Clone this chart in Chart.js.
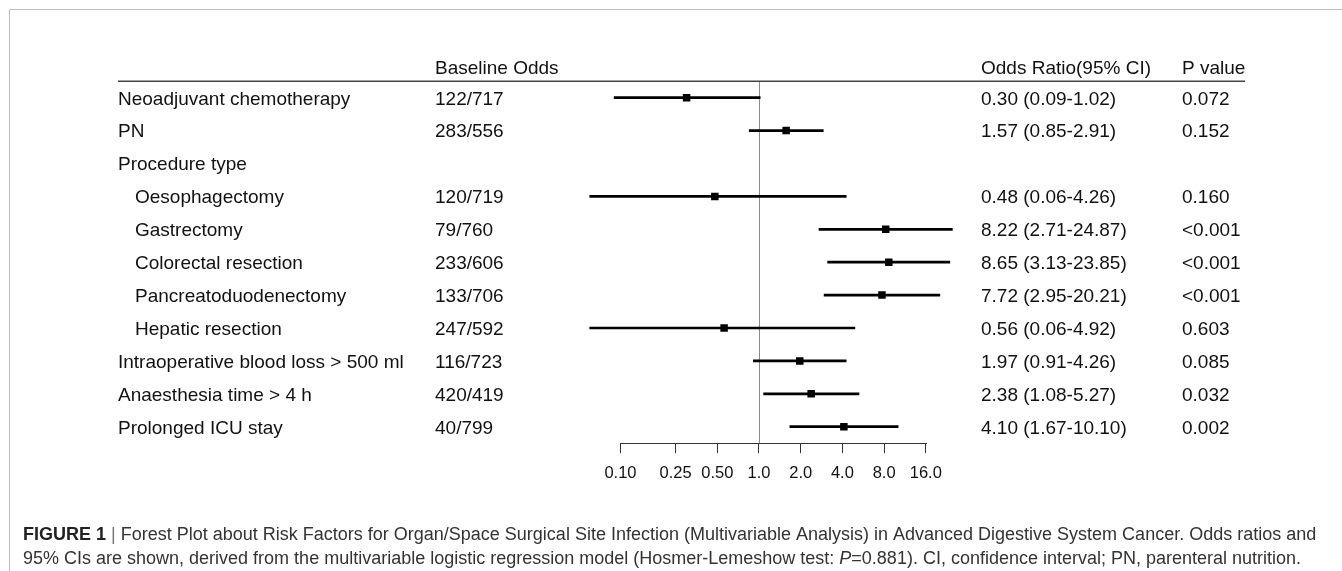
<!DOCTYPE html>
<html>
<head>
<meta charset="utf-8">
<script src="https://cdn.jsdelivr.net/npm/chart.js@4.4.0/dist/chart.umd.min.js"></script>
<style>
  html, body { margin: 0; padding: 0; background: #fff; }
  #forest { display: block; }
</style>
</head>
<body>
<canvas id="forest" width="1342" height="571"></canvas>
<script>
const rowLabels = [
  'Neoadjuvant chemotherapy', 'PN', 'Procedure type', 'Oesophagectomy', 'Gastrectomy',
  'Colorectal resection', 'Pancreatoduodenectomy', 'Hepatic resection',
  'Intraoperative blood loss > 500 ml', 'Anaesthesia time > 4 h', 'Prolonged ICU stay'
];
const indented = [0, 0, 0, 1, 1, 1, 1, 1, 0, 0, 0];
const baselineOdds = ['122/717', '283/556', '', '120/719', '79/760', '233/606', '133/706', '247/592', '116/723', '420/419', '40/799'];
const oddsRatios = [0.30, 1.57, null, 0.48, 8.22, 8.65, 7.72, 0.56, 1.97, 2.38, 4.10];
const ciLower = [0.09, 0.85, null, 0.06, 2.71, 3.13, 2.95, 0.06, 0.91, 1.08, 1.67];
const ciUpper = [1.02, 2.91, null, 4.26, 24.87, 23.85, 20.21, 4.92, 4.26, 5.27, 10.10];
const pValues = ['0.072', '0.152', '', '0.160', '<0.001', '<0.001', '<0.001', '0.603', '0.085', '0.032', '0.002'];

const tickValues = [0.1, 0.25, 0.5, 1, 2, 4, 8, 16];
const tickLabels = ['0.10', '0.25', '0.50', '1.0', '2.0', '4.0', '8.0', '16.0'];
const headers = ['Baseline Odds', 'Odds Ratio(95% CI)', 'P value'];

const caption1 = [
  { t: 'FIGURE 1', bold: true, color: '#222' },
  { t: ' | ', color: '#777' },
  { t: 'Forest Plot about Risk Factors for Organ/Space Surgical Site Infection (Multivariable Analysis) in Advanced Digestive System Cancer. Odds ratios and', color: '#333' }
];
const caption2 = [
  { t: '95% CIs are shown, derived from the multivariable logistic regression model (Hosmer-Lemeshow test: ', color: '#333' },
  { t: 'P', italic: true, color: '#333' },
  { t: '=0.881). CI, confidence interval; PN, parenteral nutrition.', color: '#333' }
];

const FONT = '"Liberation Sans", Arial, Helvetica, sans-serif';
const TEXT_SIZE = 19;

const ciData = [];
const pointData = [];
oddsRatios.forEach((v, i) => {
  if (v === null) return;
  ciData.push({ y: i, x: [ciLower[i], ciUpper[i]] });
  pointData.push({ x: v, y: i });
});

function orText(i) {
  if (oddsRatios[i] === null) return '';
  return oddsRatios[i].toFixed(2) + ' (' + ciLower[i].toFixed(2) + '-' + ciUpper[i].toFixed(2) + ')';
}

function drawRuns(ctx, runs, x, y, size) {
  runs.forEach(r => {
    ctx.font = (r.italic ? 'italic ' : '') + (r.bold ? 'bold ' : '') + size + 'px ' + FONT;
    ctx.fillStyle = r.color;
    ctx.fillText(r.t, x, y);
    x += ctx.measureText(r.t).width;
  });
}

function runsWidth(ctx, runs, size) {
  let w = 0;
  runs.forEach(r => {
    ctx.font = (r.italic ? 'italic ' : '') + (r.bold ? 'bold ' : '') + size + 'px ' + FONT;
    w += ctx.measureText(r.t).width;
  });
  return w;
}

const forestTable = {
  id: 'forestTable',
  beforeDraw(chart) {
    const ctx = chart.ctx;
    ctx.save();
    // figure frame (top and left only)
    ctx.strokeStyle = '#bdbdbd';
    ctx.lineWidth = 1;
    ctx.beginPath();
    ctx.moveTo(9.5, 571);
    ctx.lineTo(9.5, 9.5);
    ctx.lineTo(1342, 9.5);
    ctx.stroke();
    ctx.restore();
  },
  beforeDatasetsDraw(chart) {
    const { ctx, chartArea, scales: { x } } = chart;
    ctx.save();
    // reference line at OR = 1
    const x1 = Math.round(x.getPixelForValue(1)) + 0.5;
    ctx.strokeStyle = '#8a8a8a';
    ctx.lineWidth = 1;
    ctx.beginPath();
    ctx.moveTo(x1, chartArea.top);
    ctx.lineTo(x1, chartArea.bottom);
    ctx.stroke();
    // axis line
    const yb = Math.round(chartArea.bottom) + 0.5;
    ctx.strokeStyle = '#333';
    ctx.beginPath();
    ctx.moveTo(Math.round(x.getPixelForValue(tickValues[0])), yb);
    ctx.lineTo(Math.round(x.getPixelForValue(tickValues[tickValues.length - 1])) + 1, yb);
    ctx.stroke();
    // header underline
    ctx.strokeStyle = '#444';
    ctx.lineWidth = 1.5;
    ctx.beginPath();
    ctx.moveTo(118, chartArea.top);
    ctx.lineTo(1245, chartArea.top);
    ctx.stroke();
    ctx.restore();
  },
  afterDraw(chart) {
    const { ctx, scales: { y } } = chart;
    ctx.save();
    ctx.textBaseline = 'alphabetic';
    ctx.textAlign = 'left';
    ctx.fillStyle = '#111';
    ctx.font = TEXT_SIZE + 'px ' + FONT;
    const capOff = TEXT_SIZE * 0.716 / 2;
    // headers
    ctx.fillText(headers[0], 435, 73.5);
    ctx.fillText(headers[1], 981, 73.5);
    ctx.fillText(headers[2], 1182, 73.5);
    // rows
    rowLabels.forEach((lab, i) => {
      const yy = y.getPixelForValue(i) + capOff;
      ctx.fillText(lab, indented[i] ? 135 : 118, yy);
      ctx.fillText(baselineOdds[i], 435, yy);
      ctx.fillText(orText(i), 981, yy);
      ctx.fillText(pValues[i], 1182, yy);
    });
    // caption
    let size = 16;
    const w = runsWidth(ctx, caption1, size);
    size = Math.max(15, Math.min(18, size * 1294 / w));
    drawRuns(ctx, caption1, 23, 539.5, size);
    drawRuns(ctx, caption2, 23, 563.5, size);
    ctx.restore();
  }
};

Chart.defaults.font.family = FONT;

new Chart(document.getElementById('forest'), {
  type: 'bar',
  data: {
    datasets: [
      {
        type: 'scatter',
        data: pointData,
        pointStyle: 'rect',
        pointRadius: 5.3,
        backgroundColor: '#000',
        borderWidth: 0
      },
      {
        type: 'bar',
        data: ciData,
        backgroundColor: '#000',
        borderWidth: 0,
        barThickness: 2
      }
    ]
  },
  options: {
    indexAxis: 'y',
    responsive: false,
    animation: false,
    events: [],
    layout: { padding: { left: 565.35, right: 374.5, top: 81.25, bottom: 67.85 } },
    plugins: { legend: { display: false }, tooltip: { enabled: false } },
    scales: {
      y: { type: 'linear', min: -0.5, max: 10.5, reverse: true, offset: false, grace: 0, display: false },
      x: {
        type: 'logarithmic',
        position: 'bottom',
        min: 0.04,
        max: 32,
        offset: false,
        border: { display: false },
        grid: { display: true, drawOnChartArea: false, drawTicks: true, tickLength: 10, color: '#333', lineWidth: 1 },
        ticks: {
          autoSkip: false,
          maxRotation: 0,
          padding: 10,
          color: '#111',
          font: { size: 16.5 },
          callback: (v, i) => tickLabels[i]
        },
        afterBuildTicks: s => { s.ticks = tickValues.map(v => ({ value: v })); },
        afterFit: s => { s.height = 60; }
      }
    }
  },
  plugins: [forestTable]
});
</script>
</body>
</html>
